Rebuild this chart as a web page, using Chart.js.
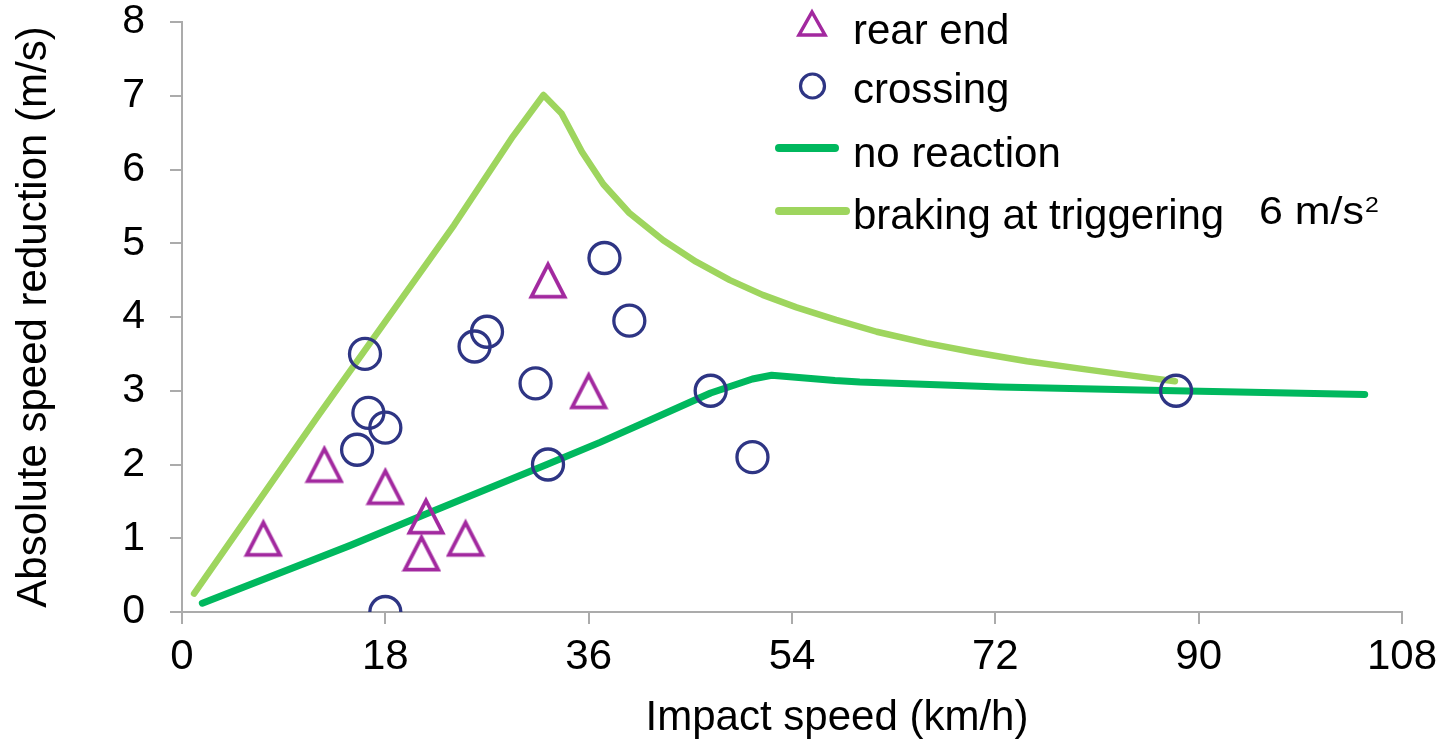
<!DOCTYPE html>
<html>
<head>
<meta charset="utf-8">
<script src="https://cdn.jsdelivr.net/npm/chart.js@4.4.1/dist/chart.umd.min.js"></script>
<style>
  html, body { margin: 0; padding: 0; background: #ffffff; }
  #wrap { width: 1447px; height: 743px; position: relative; }
</style>
</head>
<body>
<div id="wrap"><canvas id="c" width="1447" height="743"></canvas></div>
<script>
// ---- data ----
const seriesNames = ['rear end', 'crossing', 'no reaction', 'braking at triggering'];
const xTitle = 'Impact speed (km/h)';
const yTitle = 'Absolute speed reduction (m/s)';
const decelNote = '6 m/s';
const decelNoteSup = '2';

const xTicks = [0, 18, 36, 54, 72, 90, 108];
const yTicks = [0, 1, 2, 3, 4, 5, 6, 7, 8];

const rearEndX = [7.2, 12.6, 18.0, 21.6, 21.2, 25.1, 36.0, 32.4];
const rearEndY = [1.0, 2.0, 1.7, 1.3, 0.8, 1.0, 3.0, 4.5];

const crossingX = [16.2, 16.5, 18.0, 15.5, 18.0, 25.9, 27.0, 31.3, 32.4, 39.6, 37.4, 46.8, 50.5, 88.0];
const crossingY = [3.5, 2.7, 2.5, 2.2, 0.0, 3.6, 3.8, 3.1, 2.0, 3.95, 4.8, 3.0, 2.1, 3.0];

const noReactionX = [1.8, 14.85, 21.6, 32.3, 37.0, 41.4, 46.8, 50.5, 52.2, 57.8, 60.0, 72.4, 87.9, 104.7];
const noReactionY = [0.12, 0.9, 1.33, 2.0, 2.3, 2.6, 2.97, 3.16, 3.21, 3.14, 3.12, 3.05, 3.0, 2.95];

const brakingX = [1.07, 12.0, 24.1, 29.3, 32.0, 33.6, 35.4, 37.3, 39.6, 42.6, 45.5, 48.5, 51.4, 54.4, 57.9, 61.5, 65.9, 70.0, 74.8, 80.0, 83.6, 87.9];
const brakingY = [0.25, 2.65, 5.25, 6.45, 7.01, 6.76, 6.24, 5.80, 5.41, 5.04, 4.75, 4.50, 4.30, 4.13, 3.96, 3.80, 3.645, 3.525, 3.40, 3.29, 3.215, 3.13];

// ---- styles ----
const C_REAR = '#A2299F';
const C_CROSS = '#2E3584';
const C_NOREACT = '#00B85E';
const C_BRAKE = '#9ED55E';
const AXIS = '#ABABAB';
const FONT = '"Liberation Sans", Arial, sans-serif';

function pts(xs, ys) { return xs.map((x, i) => ({ x: x, y: ys[i] })); }

// triangle marker image with its bounding box centred on the point
function triangleImage(size, lw, color) {
  const cv = document.createElement('canvas');
  cv.width = size; cv.height = size;
  const g = cv.getContext('2d');
  g.strokeStyle = color; g.lineWidth = lw; g.lineJoin = 'miter';
  const inset = lw / 2 + 1.5;
  g.beginPath();
  g.moveTo(size / 2, inset + 1);
  g.lineTo(size - inset, size - inset);
  g.lineTo(inset, size - inset);
  g.closePath();
  g.stroke();
  return cv;
}
const triImg = triangleImage(40, 3.8, C_REAR);

const customDraw = {
  id: 'customDraw',
  afterDraw(chart) {
    const ctx = chart.ctx;
    ctx.save();
    // x axis title (offset to the right as in the reference)
    ctx.fillStyle = '#000';
    ctx.font = '42px ' + FONT;
    ctx.textAlign = 'center';
    ctx.textBaseline = 'middle';
    ctx.fillText(xTitle, 837, 718);

    // legend
    ctx.textAlign = 'left';
    ctx.textBaseline = 'alphabetic';
    ctx.strokeStyle = C_REAR; ctx.lineWidth = 3.5; ctx.lineJoin = 'miter';
    ctx.beginPath();
    ctx.moveTo(812, 12); ctx.lineTo(825, 35); ctx.lineTo(799, 35); ctx.closePath();
    ctx.stroke();
    ctx.strokeStyle = C_CROSS; ctx.lineWidth = 3.2;
    ctx.beginPath(); ctx.arc(812.5, 86, 12, 0, Math.PI * 2); ctx.stroke();
    ctx.lineCap = 'round';
    ctx.lineWidth = 8;
    ctx.strokeStyle = C_NOREACT;
    ctx.beginPath(); ctx.moveTo(779, 148); ctx.lineTo(835, 148); ctx.stroke();
    ctx.strokeStyle = C_BRAKE;
    ctx.beginPath(); ctx.moveTo(779, 211); ctx.lineTo(846, 211); ctx.stroke();

    ctx.fillStyle = '#000';
    ctx.font = '42px ' + FONT;
    ctx.fillText(seriesNames[0], 853, 44);
    ctx.fillText(seriesNames[1], 853, 103);
    ctx.fillText(seriesNames[2], 853, 167);
    ctx.fillText(seriesNames[3], 853, 229);

    // "6 m/s²" note, slightly wide as in the reference
    ctx.save();
    ctx.translate(1259, 224);
    ctx.scale(1.13, 1);
    ctx.font = '38px ' + FONT;
    ctx.fillText(decelNote, 0, 0);
    const w = ctx.measureText(decelNote).width;
    ctx.font = '22px ' + FONT;
    ctx.fillText(decelNoteSup, w + 1, -12);
    ctx.restore();
    ctx.restore();
  }
};

new Chart(document.getElementById('c'), {
  type: 'scatter',
  data: {
    datasets: [
      {
        label: seriesNames[0],
        data: pts(rearEndX, rearEndY),
        pointStyle: triImg,
        pointRadius: 20,
        showLine: false
      },
      {
        label: seriesNames[1],
        data: pts(crossingX, crossingY),
        pointStyle: 'circle',
        pointRadius: 15.5,
        pointBorderWidth: 3.3,
        pointBorderColor: C_CROSS,
        pointBackgroundColor: 'rgba(0,0,0,0)',
        showLine: false
      },
      {
        label: seriesNames[3],
        data: pts(brakingX, brakingY),
        showLine: true,
        borderColor: C_BRAKE,
        borderWidth: 6.5,
        borderCapStyle: 'round',
        borderJoinStyle: 'round',
        pointRadius: 0,
        tension: 0
      },
      {
        label: seriesNames[2],
        data: pts(noReactionX, noReactionY),
        showLine: true,
        borderColor: C_NOREACT,
        borderWidth: 7,
        borderCapStyle: 'round',
        borderJoinStyle: 'round',
        pointRadius: 0,
        tension: 0
      }
    ]
  },
  options: {
    responsive: false,
    animation: false,
    layout: { padding: { top: 22, right: 45, left: 0, bottom: 0 } },
    plugins: {
      legend: { display: false },
      tooltip: { enabled: false }
    },
    scales: {
      x: {
        type: 'linear',
        min: xTicks[0],
        max: xTicks[xTicks.length - 1],
        afterBuildTicks: (s) => { s.ticks = xTicks.map(v => ({ value: v })); },
        afterFit: (s) => { s.height = 131; s.paddingLeft = 0; s.paddingRight = 0; },
        ticks: { color: '#000', font: { family: FONT, size: 42 }, padding: 8, maxRotation: 0 },
        grid: { display: true, drawOnChartArea: false, drawTicks: true, tickLength: 12, color: AXIS, lineWidth: 2 },
        border: { display: true, color: AXIS, width: 2 },
        title: { display: false }
      },
      y: {
        type: 'linear',
        min: yTicks[0],
        max: yTicks[yTicks.length - 1],
        afterBuildTicks: (s) => { s.ticks = yTicks.map(v => ({ value: v })); },
        afterFit: (s) => { s.width = 182; s.paddingTop = 0; s.paddingBottom = 0; },
        ticks: { color: '#000', font: { family: FONT, size: 41, lineHeight: 1 }, padding: 25 },
        grid: { display: true, drawOnChartArea: false, drawTicks: true, tickLength: 12, color: AXIS, lineWidth: 2 },
        border: { display: true, color: AXIS, width: 2 },
        title: {
          display: true,
          text: yTitle,
          color: '#000',
          font: { family: FONT, size: 42 },
          padding: { top: 9, bottom: 0 }
        }
      }
    }
  },
  plugins: [customDraw]
});
</script>
</body>
</html>
